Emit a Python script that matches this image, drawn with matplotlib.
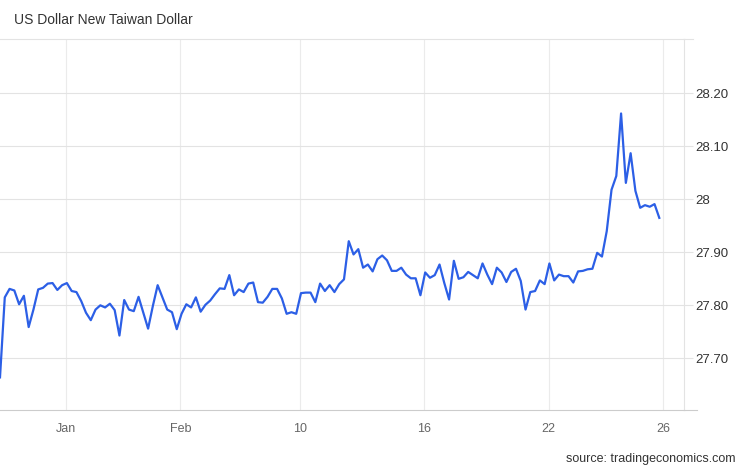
import matplotlib
matplotlib.use("Agg")
import matplotlib.pyplot as plt
import numpy as np

title = "US Dollar New Taiwan Dollar"
source = "source: tradingeconomics.com"

rate = [
    27.664, 27.815, 27.831, 27.828, 27.802, 27.818, 27.759, 27.792, 27.830, 27.833,
    27.841, 27.842, 27.829, 27.838, 27.842, 27.827, 27.825, 27.808, 27.786, 27.772,
    27.792, 27.800, 27.796, 27.803, 27.791, 27.743, 27.810, 27.792, 27.789, 27.816,
    27.786, 27.756, 27.799, 27.838, 27.815, 27.792, 27.787, 27.755, 27.784, 27.802,
    27.796, 27.815, 27.788, 27.801, 27.809, 27.821, 27.832, 27.831, 27.857, 27.819,
    27.830, 27.825, 27.841, 27.843, 27.806, 27.805, 27.816, 27.831, 27.831, 27.813,
    27.784, 27.787, 27.784, 27.823, 27.824, 27.824, 27.806, 27.841, 27.827, 27.838,
    27.825, 27.840, 27.849, 27.921, 27.896, 27.906, 27.871, 27.877, 27.864, 27.887,
    27.894, 27.885, 27.865, 27.865, 27.871, 27.858, 27.851, 27.851, 27.819, 27.862,
    27.852, 27.857, 27.877, 27.842, 27.811, 27.884, 27.850, 27.853, 27.863, 27.857,
    27.851, 27.879, 27.858, 27.840, 27.871, 27.862, 27.844, 27.863, 27.869, 27.846,
    27.792, 27.825, 27.827, 27.847, 27.840, 27.879, 27.847, 27.858, 27.855, 27.855,
    27.843, 27.864, 27.865, 27.868, 27.869, 27.899, 27.892, 27.940, 28.018, 28.044,
    28.162, 28.031, 28.087, 28.016, 27.984, 27.989, 27.986, 27.991, 27.965,
]

x_tick_labels = ["Jan", "Feb", "10", "16", "22", "26"]
y_ticks = [27.70, 27.80, 27.90, 28.00, 28.10, 28.20]
y_tick_labels = ["27.70", "27.80", "27.90", "28", "28.10", "28.20"]

plt.rcParams["font.family"] = ["Liberation Sans", "DejaVu Sans"]

fig = plt.figure(figsize=(7.46, 4.68), dpi=100)
W, H = 746, 468
ax = fig.add_axes([0, (H - 410) / H, 684 / W, (410 - 39) / H])

xs = np.arange(len(rate))
ax.plot(xs, rate, color="#2c5fe6", linewidth=1.6, solid_joinstyle="round", zorder=3)

x_tick_pos = [13.75, 37.74, 62.86, 88.81, 114.81, 138.84]
ax.set_xlim(0, 684 / 4.7775)
ax.set_ylim(27.6025, 28.3025)

ax.set_xticks(x_tick_pos)
ax.set_xticklabels(x_tick_labels)
ax.set_yticks(y_ticks)
ax.set_yticklabels(y_tick_labels)
ax.yaxis.tick_right()

ax.grid(True, axis="x", color="#ebebeb", linewidth=0.8)
ax.grid(True, axis="y", color="#e3e3e3", linewidth=0.8)
ax.tick_params(axis="x", length=0, pad=9, labelsize=9, labelcolor="#666666")
ax.tick_params(axis="y", length=6.5, width=0.8, color="#e3e3e3", pad=2,
               labelsize=9.5, labelcolor="#333333")

ax.spines["left"].set_visible(False)
ax.spines["right"].set_color("#e3e3e3")
ax.spines["right"].set_linewidth(0.8)
ax.spines["top"].set_color("#e3e3e3")
ax.spines["top"].set_linewidth(0.8)
ax.spines["bottom"].set_color("#cccccc")
ax.spines["bottom"].set_linewidth(0.8)

# extend top line and bottom line a little beyond the right border
ax.plot([1, 693 / 684], [1, 1], transform=ax.transAxes, color="#e3e3e3",
        linewidth=0.8, clip_on=False)
ax.plot([1, 697 / 684], [0, 0], transform=ax.transAxes, color="#cccccc",
        linewidth=0.8, clip_on=False)

fig.text(14 / W, 1 - 20 / H, title, fontsize=10, color="#333333",
         ha="left", va="center")
fig.text(735 / W, 1 - 459 / H, source, fontsize=9, color="#333333",
         ha="right", va="center")

fig.savefig("out.png", dpi=100, facecolor="white")
